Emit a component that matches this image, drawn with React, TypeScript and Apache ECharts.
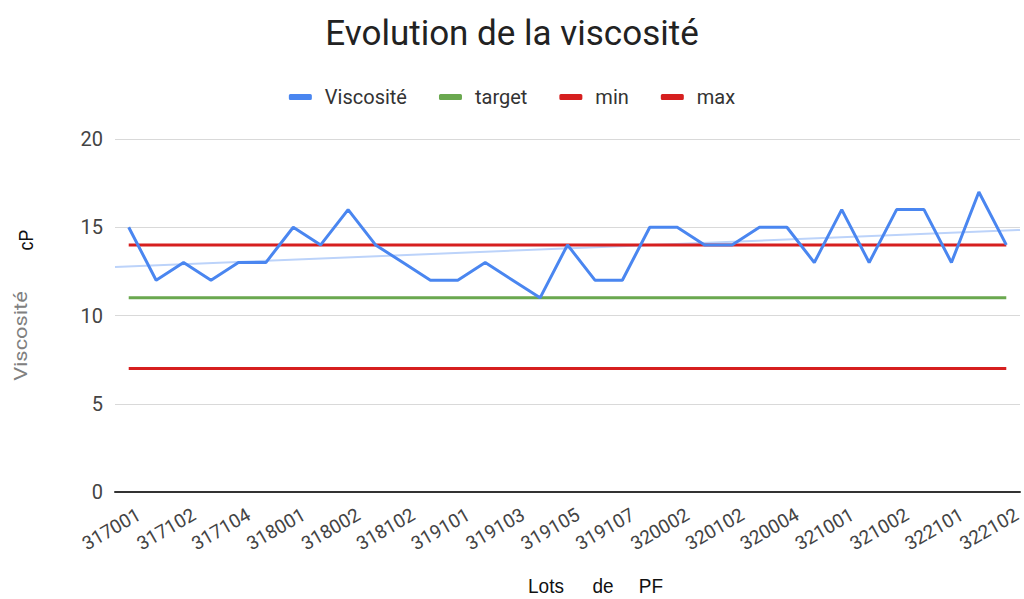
import React, { useEffect, useRef } from "react";
import * as echarts from "echarts";

const categories = [
  "317001", "317101", "317102", "317103", "317104", "317105", "318001", "318101",
  "318002", "318003", "318102", "318103", "319101", "319102", "319103", "319104",
  "319105", "319106", "319107", "320001", "320002", "320101", "320102", "320003",
  "320004", "320005", "321001", "321101", "321002", "321003", "322101", "322001",
  "322102",
];

const viscosite = [
  15, 12, 13, 12, 13, 13, 15, 14, 16, 14, 13, 12, 12, 13, 12, 11,
  14, 12, 12, 15, 15, 14, 14, 15, 15, 13, 16, 13, 16, 16, 13, 17, 14,
];

const target = [
  11, 11, 11, 11, 11, 11, 11, 11, 11, 11, 11, 11, 11, 11, 11, 11, 11,
  11, 11, 11, 11, 11, 11, 11, 11, 11, 11, 11, 11, 11, 11, 11, 11,
];

const minLine = [
  14, 14, 14, 14, 14, 14, 14, 14, 14, 14, 14, 14, 14, 14, 14, 14, 14,
  14, 14, 14, 14, 14, 14, 14, 14, 14, 14, 14, 14, 14, 14, 14, 14,
];

const maxLine = [
  7, 7, 7, 7, 7, 7, 7, 7, 7, 7, 7, 7, 7, 7, 7, 7, 7,
  7, 7, 7, 7, 7, 7, 7, 7, 7, 7, 7, 7, 7, 7, 7, 7,
];

// trend line end points, across the full plot width
const trendline = [
  [0, 12.75],
  [1, 14.85],
];

export default function App() {
  const ref = useRef<HTMLDivElement>(null);

  useEffect(() => {
    if (!ref.current) return;
    const chart = echarts.init(ref.current, null, { renderer: "svg" });
    chart.setOption({
      animation: false,
      backgroundColor: "#ffffff",
      title: {
        text: "Evolution de la viscosité",
        left: "center",
        top: 11,
        textStyle: {
          fontFamily: "Roboto",
          fontSize: 35,
          fontWeight: "normal",
          color: "#222222",
        },
      },
      legend: {
        data: ["Viscosité", "target", "min", "max"],
        top: 82,
        left: "center",
        itemWidth: 23,
        itemHeight: 6,
        itemGap: 32,
        icon: "roundRect",
        textStyle: {
          fontFamily: "Roboto",
          fontSize: 20,
          color: "#333333",
          padding: [0, 0, 0, 8],
        },
      },
      grid: {
        left: 115,
        right: 4,
        top: 139,
        bottom: 107,
        containLabel: false,
        outerBoundsMode: "none",
      },
      xAxis: [
        {
          type: "category",
          data: categories,
          boundaryGap: true,
          axisLine: { show: true, lineStyle: { color: "#333333", width: 2 } },
          axisTick: { show: false },
          axisLabel: {
            interval: 1,
            rotate: 30,
            color: "#444444",
            fontFamily: "Roboto",
            fontSize: 19,
            margin: 27,
            padding: [0, -12, 0, 0],
          },
          splitLine: { show: false },
        },
        {
          type: "value",
          min: 0,
          max: 1,
          show: false,
        },
      ],
      yAxis: {
        type: "value",
        min: 0,
        max: 20,
        interval: 5,
        axisLine: { show: false },
        axisTick: { show: false },
        axisLabel: {
          color: "#444444",
          fontFamily: "Roboto",
          fontSize: 20,
          margin: 12,
        },
        splitLine: { lineStyle: { color: "#d9d9d9", width: 1 } },
      },
      series: [
        {
          name: "trend",
          type: "line",
          xAxisIndex: 1,
          data: trendline,
          symbol: "none",
          lineStyle: { color: "#bcd3fa", width: 2 },
          z: 1,
          silent: true,
        },
        {
          name: "target",
          type: "line",
          data: target,
          symbol: "none",
          color: "#6aa84f",
          lineStyle: { color: "#6aa84f", width: 3 },
          z: 2,
        },
        {
          name: "min",
          type: "line",
          data: minLine,
          symbol: "none",
          color: "#d61f1f",
          lineStyle: { color: "#d61f1f", width: 3 },
          z: 2,
        },
        {
          name: "max",
          type: "line",
          data: maxLine,
          symbol: "none",
          color: "#d61f1f",
          lineStyle: { color: "#d61f1f", width: 3 },
          z: 2,
        },
        {
          name: "Viscosité",
          type: "line",
          data: viscosite,
          symbol: "none",
          color: "#4a86f0",
          lineStyle: { color: "#4a86f0", width: 3 },
          z: 5,
        },
      ],
      graphic: [
        {
          type: "text",
          x: 21,
          y: 336,
          rotation: Math.PI / 2,
          scaleX: 1.15,
          style: {
            text: "Viscosité",
            fill: "#808080",
            font: "19px Roboto",
            align: "center",
            verticalAlign: "middle",
          },
        },
        {
          type: "text",
          x: 25,
          y: 240,
          rotation: Math.PI / 2,
          scaleX: 0.85,
          style: {
            text: "cP",
            fill: "#111111",
            font: "21px 'Liberation Sans'",
            align: "center",
            verticalAlign: "middle",
          },
        },
        {
          type: "text",
          x: 546,
          y: 586,
          scaleX: 0.95,
          style: {
            text: "Lots",
            fill: "#111111",
            font: "20px 'Liberation Sans'",
            align: "center",
            verticalAlign: "middle",
          },
        },
        {
          type: "text",
          x: 603,
          y: 586,
          scaleX: 0.95,
          style: {
            text: "de",
            fill: "#111111",
            font: "20px 'Liberation Sans'",
            align: "center",
            verticalAlign: "middle",
          },
        },
        {
          type: "text",
          x: 651,
          y: 586,
          scaleX: 0.95,
          style: {
            text: "PF",
            fill: "#111111",
            font: "20px 'Liberation Sans'",
            align: "center",
            verticalAlign: "middle",
          },
        },
      ],
    });
    return () => chart.dispose();
  }, []);

  return (
    <div
      ref={ref}
      style={{ position: "fixed", left: 0, top: 0, width: 1024, height: 599 }}
    />
  );
}
